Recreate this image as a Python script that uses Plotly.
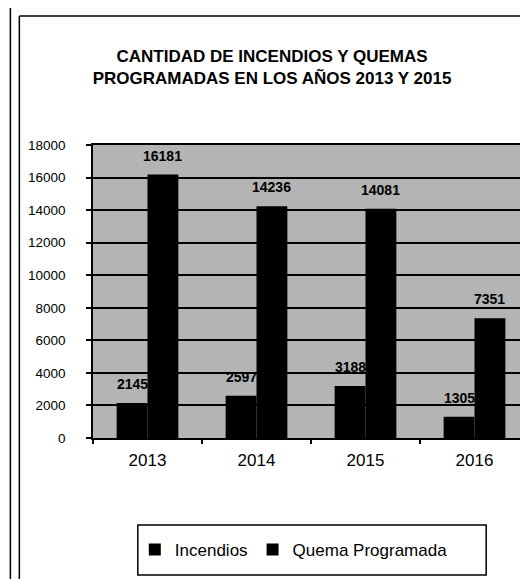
import plotly.graph_objects as go

years = ["2013", "2014", "2015", "2016"]
incendios = [2145, 2597, 3188, 1305]
quema = [16181, 14236, 14081, 7351]
series_names = ["Incendios", "Quema Programada"]
title_lines = ["CANTIDAD DE INCENDIOS Y QUEMAS", "PROGRAMADAS EN LOS AÑOS 2013 Y 2015"]

W, H = 528, 579
L, R, T, B = 85, 5, 137, 149
pw, ph = W - L - R, H - T - B


def px(x):
    return (x - L) / pw


def py(y):
    return (H - B - y) / ph


FONT = "Arial, Liberation Sans, sans-serif"

fig = go.Figure()
fig.add_trace(go.Bar(name=series_names[0], x=years, y=incendios,
                     marker=dict(color="black", line=dict(width=0))))
fig.add_trace(go.Bar(name=series_names[1], x=years, y=quema,
                     marker=dict(color="black", line=dict(width=0))))

bargap = 0.434
half = (1 - bargap) / 4  # offset (category units) of each bar centre from category centre
for vals, sgn in ((incendios, -1), (quema, 1)):
    for i, v in enumerate(vals):
        fig.add_annotation(x=i + sgn * half, y=v, xref="x", yref="y", text=f"<b>{v}</b>",
                           showarrow=False, yanchor="bottom", yshift=9,
                           font=dict(family=FONT, size=14, color="black"))

# outer frame lines
line = dict(color="black", width=1.5)
fig.add_shape(type="line", xref="paper", yref="paper", x0=px(11), x1=px(W), y0=py(8), y1=py(8), line=line, layer="above")
fig.add_shape(type="line", xref="paper", yref="paper", x0=px(11), x1=px(11), y0=py(8), y1=py(H), line=line, layer="above")
fig.add_shape(type="line", xref="paper", yref="paper", x0=px(2), x1=px(2), y0=py(0), y1=py(H), line=line, layer="above")
# legend box
fig.add_shape(type="rect", xref="paper", yref="paper", x0=px(130), x1=px(480), y0=py(517), y1=py(567),
              line=dict(color="black", width=1.5), fillcolor="white", layer="below")

fig.update_layout(
    width=W, height=H,
    margin=dict(l=L, r=R, t=T, b=B),
    paper_bgcolor="white",
    plot_bgcolor="#b4b4b4",
    barmode="group", bargap=bargap, bargroupgap=0,
    title=dict(text="<b>" + "<br>".join(title_lines) + "</b>", x=0.5, xanchor="center",
               xref="container", yref="container", y=1 - 53.5 / H, yanchor="middle",
               font=dict(family=FONT, size=17, color="black")),
    font=dict(family=FONT, color="black"),
    showlegend=True,
    legend=dict(orientation="h", x=px(127), xanchor="left", y=py(542), yanchor="middle",
                bgcolor="rgba(0,0,0,0)", borderwidth=0, font=dict(family=FONT, size=17, color="black"),
                traceorder="normal"),
    xaxis=dict(type="category", range=[-0.5, 3.5], showline=True, linecolor="black", linewidth=1.5,
               mirror=True, ticks="outside", tickson="boundaries", ticklen=4, tickcolor="black",
               tickwidth=1.5, showgrid=False, tickangle=0,
               tickfont=dict(family=FONT, size=17, color="black"), ticklabelstandoff=6),
    yaxis=dict(range=[0, 18000], dtick=2000, tick0=0, tickformat="d", showline=True,
               linecolor="black", linewidth=1.5, mirror=True, ticks="outside", ticklen=5,
               tickcolor="black", tickwidth=1.5, showgrid=True, gridcolor="black", gridwidth=2,
               zeroline=False, tickfont=dict(family=FONT, size=13.5, color="black"),
               ticklabelstandoff=18),
)

fig.write_html("out.html")
